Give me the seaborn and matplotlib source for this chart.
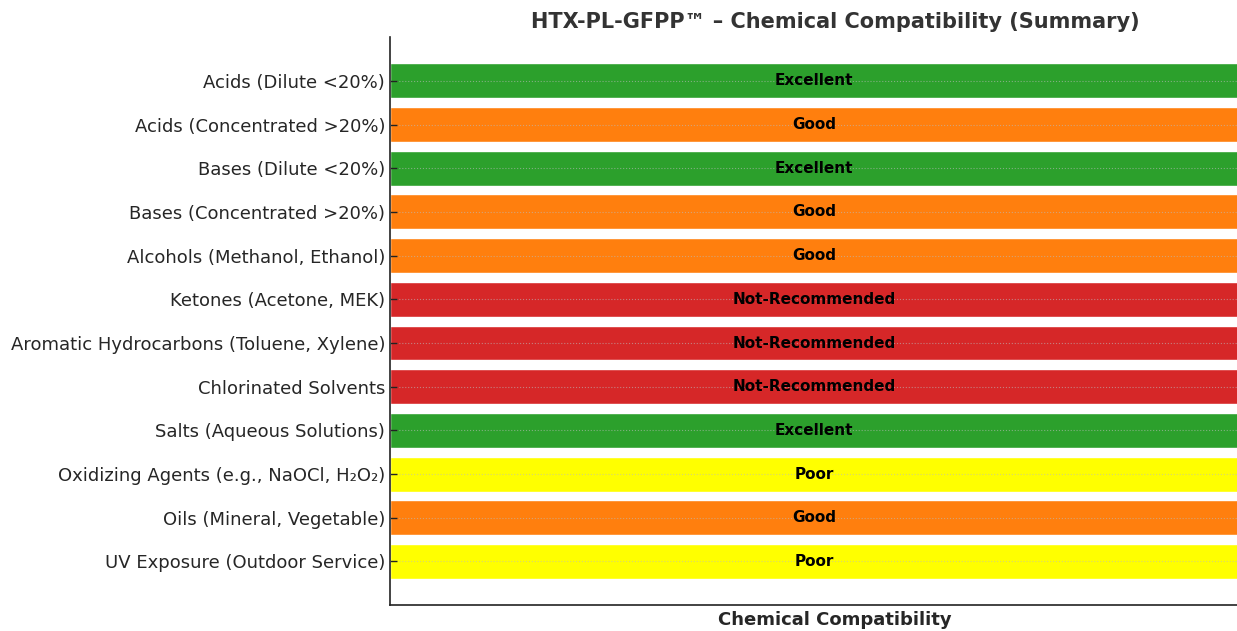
"""Chemical compatibility summary chart."""

import matplotlib
matplotlib.use("Agg")
import pandas as pd
import seaborn as sns
from matplotlib import pyplot as plt

CHEMICALS = [
    "Acids (Dilute <20%)",
    "Acids (Concentrated >20%)",
    "Bases (Dilute <20%)",
    "Bases (Concentrated >20%)",
    "Alcohols (Methanol, Ethanol)",
    "Ketones (Acetone, MEK)",
    "Aromatic Hydrocarbons (Toluene, Xylene)",
    "Chlorinated Solvents",
    "Salts (Aqueous Solutions)",
    "Oxidizing Agents (e.g., NaOCl, H₂O₂)",
    "Oils (Mineral, Vegetable)",
    "UV Exposure (Outdoor Service)",
]
RATINGS = [
    "Excellent", "Good", "Excellent", "Good", "Good",
    "Not-Recommended", "Not-Recommended", "Not-Recommended",
    "Excellent", "Poor", "Good", "Poor",
]
BAR_LENGTH = [1, 1, 1, 1, 1, 1, 1, 1, 1, 1, 1, 1]

RATING_COLORS = {
    "Excellent": "#2CA02C",
    "Good": "#FF7F0E",
    "Not-Recommended": "#D62728",
    "Poor": "#FFFF00",
}

sns.set_theme(style="white")
plt.rcParams["font.family"] = ["DejaVu Sans"]

df = pd.DataFrame({"chemical": CHEMICALS, "rating": RATINGS, "value": BAR_LENGTH})

fig = plt.figure(figsize=(12.37, 6.31), dpi=100)
# the original plot area runs past the right edge of the image
ax = fig.add_axes([0.3153, 0.041, 0.7195, 0.9])
sns.barplot(
    data=df, x="value", y="chemical", hue="rating", palette=RATING_COLORS,
    dodge=False, legend=False, width=0.8, saturation=1, ax=ax,
)

for i, label in enumerate(RATINGS):
    ax.text(0.5, i, label, ha="center", va="center", fontsize=11,
            fontweight="bold", color="black")

ax.set_xlim(0, 1.05)
ax.set_ylim(12, -1)
ax.set_xticks([])
ax.set_xlabel("Chemical Compatibility", fontsize=13, fontweight="bold", labelpad=4)
ax.set_ylabel("")
ax.tick_params(axis="y", labelsize=13, length=5, width=1, color="#222222",
               left=True, direction="in", pad=3.5)
ax.grid(axis="y", linestyle=":", linewidth=0.8, color="#BBBBBB", alpha=0.6)
ax.set_axisbelow(False)
for side in ["top", "right"]:
    ax.spines[side].set_visible(False)
for side in ["left", "bottom"]:
    ax.spines[side].set_color("#222222")
    ax.spines[side].set_linewidth(1.2)

ax.set_title("HTX-PL-GFPP™ – Chemical Compatibility (Summary)",
             fontsize=15, fontweight="bold", color="#333333", pad=7)

fig.savefig("out.png", dpi=100)
